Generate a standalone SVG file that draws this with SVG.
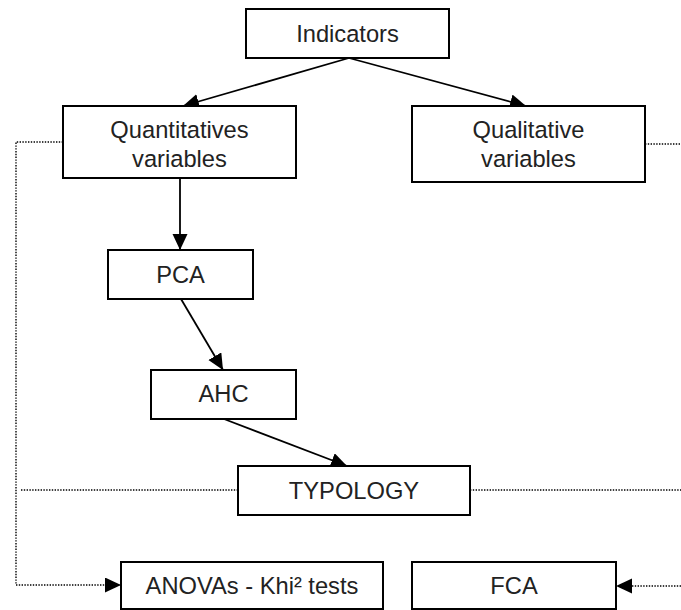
<svg xmlns="http://www.w3.org/2000/svg" width="681" height="610" viewBox="0 0 681 610">
<style>
.box{fill:#fff;stroke:#000;stroke-width:2}
.lbl{font-family:"Liberation Sans",Arial,sans-serif;font-size:23.7px;fill:#222;text-anchor:middle}
.arr{fill:none;stroke:#000;stroke-width:1.8}
.dot{fill:none;stroke:#000;stroke-width:1.4;stroke-dasharray:1.4 1.4}
</style>
<defs>
<marker id="ah" markerUnits="userSpaceOnUse" markerWidth="17" markerHeight="16" refX="16" refY="7.5" orient="auto">
<path d="M0,0 L16,7.5 L0,15 z" fill="#000"/>
</marker>
</defs>
<g id="connectors">
<line class="arr" x1="349" y1="58" x2="183" y2="106" marker-end="url(#ah)"/>
<line class="arr" x1="349" y1="58" x2="526" y2="106" marker-end="url(#ah)"/>
<line class="arr" x1="180" y1="178" x2="180" y2="250" marker-end="url(#ah)"/>
<line class="arr" x1="181" y1="299" x2="223" y2="370" marker-end="url(#ah)"/>
<line class="arr" x1="224" y1="419" x2="347" y2="466" marker-end="url(#ah)"/>
<polyline class="dot" points="63,142 16,142 16,585 121,585" marker-end="url(#ah)"/>
<line class="dot" x1="681" y1="586" x2="616" y2="586" marker-end="url(#ah)"/>
<line class="dot" x1="645" y1="144" x2="681" y2="144"/>
<line class="dot" x1="21" y1="490" x2="238" y2="490"/>
<line class="dot" x1="470" y1="490" x2="681" y2="490"/>
</g>
<g id="indicators">
<rect class="box" x="246" y="9" width="203" height="49"/>
<text class="lbl" x="347.5" y="42">Indicators</text>
</g>
<g id="quantitatives">
<rect class="box" x="63" y="106" width="233" height="72"/>
<text class="lbl" x="179.5" y="138">Quantitatives</text>
<text class="lbl" x="179.5" y="167">variables</text>
</g>
<g id="qualitative">
<rect class="box" x="412" y="106" width="233" height="76"/>
<text class="lbl" x="528.5" y="138">Qualitative</text>
<text class="lbl" x="528.5" y="167">variables</text>
</g>
<g id="pca">
<rect class="box" x="108" y="250" width="145" height="49"/>
<text class="lbl" x="180.5" y="283">PCA</text>
</g>
<g id="ahc">
<rect class="box" x="151" y="370" width="145" height="49"/>
<text class="lbl" x="223.5" y="402">AHC</text>
</g>
<g id="typology">
<rect class="box" x="238" y="466" width="232" height="49"/>
<text class="lbl" x="354" y="499">TYPOLOGY</text>
</g>
<g id="anova">
<rect class="box" x="121" y="562" width="262" height="47"/>
<text class="lbl" x="252" y="594">ANOVAs - Khi² tests</text>
</g>
<g id="fca">
<rect class="box" x="412" y="562" width="204" height="47"/>
<text class="lbl" x="514" y="594">FCA</text>
</g>
</svg>
